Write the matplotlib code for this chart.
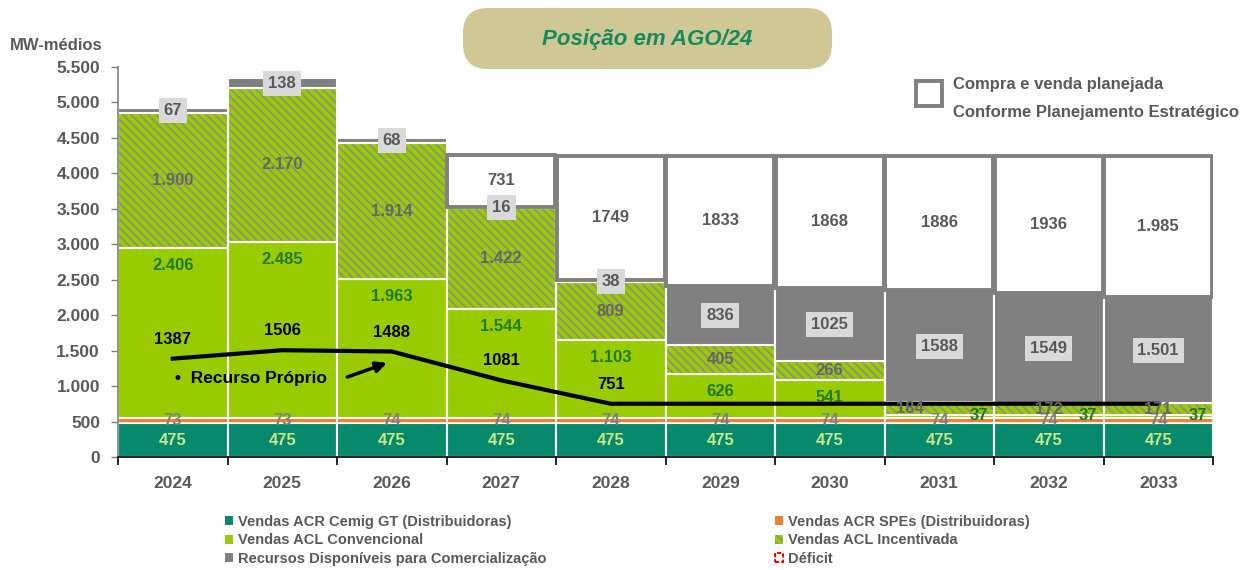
import numpy as np
import matplotlib
matplotlib.use('Agg')
import matplotlib.pyplot as plt
from matplotlib.patches import Patch, Rectangle, FancyBboxPatch

plt.rcParams['font.family'] = ['Liberation Sans', 'DejaVu Sans']
plt.rcParams['font.weight'] = 'bold'
plt.rcParams['hatch.linewidth'] = 1.2

# data (MW-médios)
years = ['2024', '2025', '2026', '2027', '2028', '2029', '2030', '2031', '2032', '2033']
cemig_gt = [475, 475, 475, 475, 475, 475, 475, 475, 475, 475]
spes = [73, 73, 74, 74, 74, 74, 74, 74, 74, 74]
acl_conv = [2406, 2485, 1963, 1544, 1103, 626, 541, 37, 37, 37]
acl_inc = [1900, 2170, 1914, 1422, 809, 405, 266, 184, 172, 171]
recursos = [67, 138, 68, 16, 38, 836, 1025, 1588, 1549, 1501]
compra_venda = [0, 0, 0, 731, 1749, 1833, 1868, 1886, 1936, 1985]
recurso_proprio = [1387, 1506, 1488, 1081, 751, 751, 751, 751, 751, 751]

# labels as written on the chart
conv_labels = ['2.406', '2.485', '1.963', '1.544', '1.103', '626', '541', '37', '37', '37']
inc_labels = ['1.900', '2.170', '1.914', '1.422', '809', '405', '266', '184', '172', '171']
rec_labels = ['67', '138', '68', '16', '38', '836', '1025', '1588', '1549', '1.501']
cv_labels = ['', '', '', '731', '1749', '1833', '1868', '1886', '1936', '1.985']
rp_labels = ['1387', '1506', '1488', '1081', '751']

# colours
c_teal = '#078a6b'
c_orange = '#f07f32'
c_green = '#99cc00'
c_gray = '#808080'
c_txt = '#595959'

x = np.arange(len(years))
cemig_gt = np.array(cemig_gt)
spes = np.array(spes)
acl_conv = np.array(acl_conv)
acl_inc = np.array(acl_inc)
recursos = np.array(recursos)
compra_venda = np.array(compra_venda)

b1 = cemig_gt
b2 = b1 + spes
b3 = b2 + acl_conv
b4 = b3 + acl_inc
b5 = b4 + recursos

fig = plt.figure(figsize=(12.45, 5.7), dpi=100)
ax = fig.add_axes([118 / 1245, 1 - 457 / 570, 1095 / 1245, 390 / 570])

w = 1.0
ax.bar(x, cemig_gt, w, color=c_teal, edgecolor='white', linewidth=1.5, zorder=2)
ax.bar(x, spes, w, bottom=b1, color=c_orange, edgecolor='white', linewidth=1.2, zorder=2)
ax.bar(x, acl_conv, w, bottom=b2, color=c_green, edgecolor='white', linewidth=1.5, zorder=2)
ax.bar(x, acl_inc, w, bottom=b3, color=c_green, edgecolor='#8c8c8c', linewidth=0,
       hatch='\\\\\\\\', zorder=2)
ax.bar(x, acl_inc, w, bottom=b3, color='none', edgecolor='white', linewidth=1.5, zorder=2)
ax.bar(x, recursos, w, bottom=b4, color=c_gray, edgecolor='white', linewidth=1.5, zorder=2)
m = compra_venda > 0
ax.bar(x[m], compra_venda[m], w * 0.99, bottom=b5[m], color='white', edgecolor=c_gray,
       linewidth=2.8, zorder=2)

# data labels
for i in range(len(years)):
    ax.text(x[i], b1[i] / 2, str(cemig_gt[i]), ha='center', va='center',
            color='#c8e68c', fontsize=12, zorder=5)
    ax.text(x[i], b1[i] + spes[i] / 2, str(spes[i]), ha='center', va='center',
            color='#7f7f7f', fontsize=12, zorder=5)
    if acl_conv[i] > 100:
        ax.annotate(conv_labels[i], (x[i], b3[i]), xytext=(0, -13), textcoords='offset points',
                    ha='center', va='center', color='#1f7a1f', fontsize=12, zorder=5)
    else:
        ax.text(x[i] + 0.36, b2[i] + acl_conv[i] / 2 + 20, conv_labels[i], ha='center',
                va='center', color='#1f7a1f', fontsize=12, zorder=5)
    dx = -0.27 if i == 7 else 0
    ax.text(x[i] + dx, b3[i] + acl_inc[i] / 2, inc_labels[i], ha='center', va='center',
            color='#666666', fontsize=12, zorder=5)
    ax.text(x[i], b4[i] + recursos[i] / 2, rec_labels[i], ha='center', va='center',
            color=c_txt, fontsize=12, zorder=5,
            bbox=dict(boxstyle='square,pad=0.3', facecolor='#d9d9d9', edgecolor='none'))
    if cv_labels[i]:
        ax.text(x[i], b5[i] + compra_venda[i] / 2, cv_labels[i], ha='center', va='center',
                color=c_txt, fontsize=12, zorder=5)

# recurso próprio line
ax.plot(x, recurso_proprio, color='black', linewidth=3, zorder=4)
for i, lab in enumerate(rp_labels):
    ax.annotate(lab, (x[i], recurso_proprio[i]), xytext=(0, 14), textcoords='offset points',
                ha='center', va='center', color='black', fontsize=12, zorder=6)
ax.text(0.02, 1100, '•  Recurso Próprio', ha='left', va='center', fontsize=12.5,
        color='black', zorder=6)
ax.annotate('', xy=(1.98, 1340), xytext=(1.57, 1114),
            arrowprops=dict(arrowstyle='-|>', color='black', lw=2.5, mutation_scale=16),
            zorder=6)

# axes
ax.set_xlim(-0.5, len(years) - 0.5)
ax.set_ylim(0, 5500)
ax.set_yticks(np.arange(0, 5501, 500))
ax.set_yticklabels([f'{v:,.0f}'.replace(',', '.') for v in np.arange(0, 5501, 500)])
ax.set_xticks(np.arange(-0.5, len(years), 1))
ax.set_xticklabels([])
ax.set_xticks(x, minor=True)
ax.set_xticklabels(years, minor=True)
ax.tick_params(axis='x', which='major', length=6, width=1.2, color='black')
ax.tick_params(axis='x', which='minor', length=0, pad=14, labelsize=12.5, labelcolor=c_txt)
ax.tick_params(axis='y', length=5, width=1, color=c_gray, labelsize=12.5, labelcolor=c_txt, pad=8)
for s in ['top', 'right']:
    ax.spines[s].set_visible(False)
ax.spines['left'].set_color(c_gray)
ax.spines['left'].set_linewidth(1.2)
ax.spines['bottom'].set_color('black')
ax.spines['bottom'].set_linewidth(1.2)

fig.text(10 / 1245, 1 - 45 / 570, 'MW-médios', ha='left', va='center', fontsize=12, color=c_txt)

# title box
fig.patches.append(FancyBboxPatch((468 / 1245, 1 - 64 / 570), 359 / 1245, 51 / 570,
                                  boxstyle='round,pad=0.004,rounding_size=0.02',
                                  transform=fig.transFigure, facecolor='#cfc794',
                                  edgecolor='none', mutation_aspect=1245 / 570))
fig.text(647 / 1245, 1 - 39 / 570, 'Posição em AGO/24', ha='center', va='center',
         fontsize=16, style='italic', color='#168a5e')

# planned purchase key
fig.patches.append(Rectangle((916 / 1245, 1 - 106 / 570), 26 / 1245, 25 / 570,
                             transform=fig.transFigure, facecolor='white',
                             edgecolor=c_gray, linewidth=2.8))
fig.text(953 / 1245, 1 - 84 / 570, 'Compra e venda planejada', ha='left', va='center',
         fontsize=12, color=c_txt)
fig.text(953 / 1245, 1 - 113 / 570, 'Conforme Planejamento Estratégico', ha='left',
         va='center', fontsize=12, color=c_txt)

# bottom legend
h_teal = Patch(facecolor=c_teal, label='Vendas ACR Cemig GT (Distribuidoras)')
h_conv = Patch(facecolor=c_green, label='Vendas ACL Convencional')
h_rec = Patch(facecolor=c_gray, label='Recursos Disponíveis para Comercialização')
h_spe = Patch(facecolor=c_orange, label='Vendas ACR SPEs (Distribuidoras)')
h_inc = Patch(facecolor=c_green, edgecolor='#8c8c8c', linewidth=0, hatch='\\\\\\\\',
              label='Vendas ACL Incentivada')
h_def = Patch(facecolor='white', edgecolor='red', linewidth=1.5, linestyle=(0, (2, 1)),
              label='Déficit')
leg_kw = dict(frameon=False, loc='upper left', handlelength=0.55, handleheight=0.6,
              handletextpad=0.35, labelspacing=0.3, borderpad=0, borderaxespad=0,
              prop={'family': ['Liberation Sans Narrow', 'Liberation Sans'],
                    'weight': 'bold', 'size': 10.5}, labelcolor=c_txt)
fig.legend(handles=[h_teal, h_conv, h_rec], bbox_to_anchor=(225 / 1245, 1 - 515 / 570), **leg_kw)
fig.legend(handles=[h_spe, h_inc, h_def], bbox_to_anchor=(775 / 1245, 1 - 515 / 570), **leg_kw)

fig.savefig('out.png', dpi=100)
